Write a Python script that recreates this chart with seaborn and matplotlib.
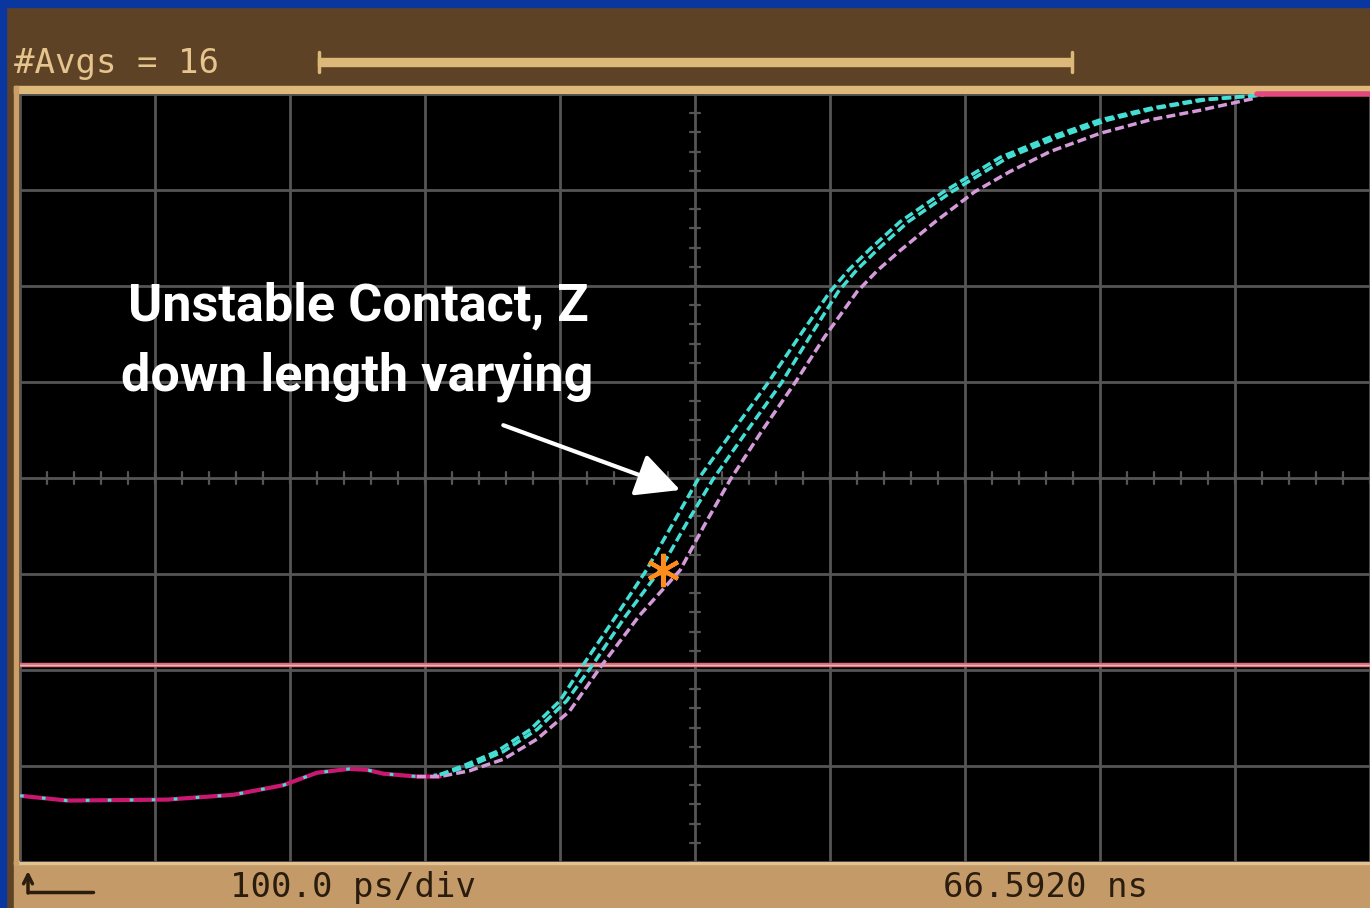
import numpy as np
import pandas as pd
import matplotlib
matplotlib.use("Agg")
import matplotlib.pyplot as plt
import seaborn as sns
from matplotlib.patches import Rectangle

# ---- screen texts -------------------------------------------------------
avg_label = "#Avgs = 16"
timebase_label = "100.0 ps/div"
position_label = "66.5920 ns"
note_lines = ["Unstable Contact, Z", "down length varying"]

# ---- waveforms (time in ps from screen left, level in vertical divisions) --
# pre-edge baseline shared by all acquisitions
base_t = [0, 35, 109, 158, 195, 220, 244, 257, 269, 294]
base_v = [0.69, 0.64, 0.65, 0.70, 0.80, 0.93, 0.97, 0.96, 0.92, 0.89]

# rising edges of the three acquisitions
edge1_t = [311, 328, 353, 378, 400, 417, 441, 464, 483, 502, 528, 554, 577,
           600, 614, 630, 652, 684, 726, 763, 800, 837, 874, 921]
edge1_v = [0.91, 1.00, 1.15, 1.38, 1.68, 2.05, 2.55, 3.04, 3.51, 3.98, 4.49,
           4.99, 5.47, 5.94, 6.17, 6.39, 6.67, 6.98, 7.34, 7.55, 7.73, 7.85,
           7.94, 7.99]
edge2_t = [311, 333, 358, 383, 405, 424, 448, 474, 493, 513, 539, 564, 585,
           606, 620, 636, 658, 690, 732, 769, 806, 841, 878, 921]
edge2_v = [0.91, 1.00, 1.15, 1.38, 1.68, 2.05, 2.55, 3.04, 3.51, 3.98, 4.50,
           4.99, 5.47, 5.94, 6.17, 6.39, 6.67, 6.98, 7.34, 7.55, 7.73, 7.85,
           7.94, 7.99]
edge3_t = [311, 333, 358, 383, 407, 431, 459, 489, 507, 526, 550, 574, 596,
           620, 635, 652, 678, 707, 733, 763, 800, 837, 874, 916]
edge3_v = [0.89, 0.95, 1.07, 1.28, 1.57, 2.05, 2.57, 3.04, 3.51, 3.98, 4.50,
           4.99, 5.47, 5.94, 6.16, 6.37, 6.67, 6.98, 7.19, 7.40, 7.59, 7.73,
           7.83, 7.96]

# trace pinned at the top of the screen after the edge
clip_t = [916, 1000]
clip_v = [8.0, 8.0]

# horizontal reference level and measurement marker
ref_t = [0, 1000]
ref_v = [2.05, 2.05]
marker_t = [476]
marker_v = [3.04]

# ---- styling -------------------------------------------------------------
sns.set_theme(style="dark")
W, H = 1370, 908
BLUE = "#0a36a0"
BROWN = "#5e4226"
TAN = "#c49a68"
TAN_LIGHT = "#dfb97a"
CYAN = "#45ded5"
LAVENDER = "#d49ada"
MAGENTA = "#c81870"
REFCOL = "#d86c78"
GRID = "#555555"

fig = plt.figure(figsize=(W / 100, H / 100), dpi=100)
fig.patch.set_facecolor(BROWN)

# frame / instrument bezel drawn in pixel units
bg = fig.add_axes([0, 0, 1, 1])
bg.set_xlim(0, W)
bg.set_ylim(H, 0)
bg.axis("off")
bg.add_patch(Rectangle((0, 0), W, H, color=BROWN, zorder=0))
bg.add_patch(Rectangle((0, 0), W, 7, color=BLUE, zorder=1))
bg.add_patch(Rectangle((0, 0), 6, H, color=BLUE, zorder=1))
bg.add_patch(Rectangle((14, 862), W - 14, H - 862, color=TAN, zorder=1))
bg.add_patch(Rectangle((14, 861), W - 14, 3, color="#e2c290", zorder=2))
bg.add_patch(Rectangle((14, 86), W - 14, 7, color=TAN_LIGHT, zorder=2))
bg.add_patch(Rectangle((14, 86), 4, 778, color="#c9a06a", zorder=2))
# record-length bar
bg.add_patch(Rectangle((318, 58), 754, 8, color="#ddb979", zorder=2))
bg.plot([319, 319], [52, 72], color="#ddb979", lw=2.5, zorder=2)
bg.plot([1072, 1072], [52, 72], color="#ddb979", lw=2.5, zorder=2)

mono = dict(family="DejaVu Sans Mono", fontsize=24.5)
bg.text(14, 73, avg_label, color="#e6c48e", va="baseline", zorder=3, **mono)
bg.text(230, 897, timebase_label, color="#2b1d0e", va="baseline", zorder=3, **mono)
bg.text(943, 897, position_label, color="#2b1d0e", va="baseline", zorder=3, **mono)
# trigger-slope icon
bg.plot([28, 93], [892, 892], color="#2b1d0e", lw=2.5, zorder=3)
bg.annotate("", xy=(28, 871), xytext=(28, 893),
            arrowprops=dict(arrowstyle="->", color="#2b1d0e", lw=2.5,
                            mutation_scale=16, shrinkA=0, shrinkB=0), zorder=3)

# graticule
ax = fig.add_axes([20 / W, 1 - 862 / H, 1350 / W, 768 / H])
ax.set_facecolor("black")
ax.set_xlim(0, 1000)
ax.set_ylim(0, 8)
ax.set_xticks(np.arange(0, 1001, 100))
ax.set_yticks(np.arange(0, 9, 1))
ax.grid(True, color=GRID, lw=2)
ax.tick_params(length=0, labelbottom=False, labelleft=False)
for s in ax.spines.values():
    s.set_visible(False)
for t in np.arange(0, 1000.1, 20):
    ax.plot([t, t], [4 - 0.06, 4 + 0.06], color=GRID, lw=1.6, zorder=1)
for v in np.arange(0, 8.01, 0.2):
    ax.plot([500 - 4.0, 500 + 4.0], [v, v], color=GRID, lw=1.6, zorder=1)

# reference level
sns.lineplot(x=ref_t, y=ref_v, ax=ax, color=REFCOL, lw=3.2, zorder=3,
             estimator=None, sort=False)
sns.lineplot(x=ref_t, y=ref_v, ax=ax, color="#f0b0b4", lw=1.0, zorder=3,
             estimator=None, sort=False)

# baseline of the stored waveform
sns.lineplot(x=base_t + edge3_t[:1], y=base_v + edge3_v[:1], ax=ax,
             color=MAGENTA, lw=3, zorder=4, estimator=None, sort=False)
sns.lineplot(x=base_t + edge1_t[:2], y=base_v + edge1_v[:2], ax=ax,
             color=CYAN, lw=2.2, linestyle=(0, (1.2, 6)), zorder=5,
             estimator=None, sort=False)

# rising edges
dash = (0, (2.6, 1.2))
sns.lineplot(x=base_t[-1:] + edge3_t, y=base_v[-1:] + edge3_v, ax=ax,
             color=LAVENDER, lw=2.5, linestyle=dash, zorder=5,
             estimator=None, sort=False)
sns.lineplot(x=edge2_t, y=edge2_v, ax=ax, color=CYAN, lw=2.5, linestyle=dash,
             zorder=6, estimator=None, sort=False)
sns.lineplot(x=edge1_t, y=edge1_v, ax=ax, color=CYAN, lw=2.5, linestyle=dash,
             zorder=6, estimator=None, sort=False)
sns.lineplot(x=clip_t, y=clip_v, ax=ax, color="#e2487e", lw=4, zorder=6,
             estimator=None, sort=False, clip_on=False)

# measurement marker
ax.plot(marker_t, marker_v, marker=(6, 2, 0), ms=24, mew=3,
        color="#ff8c1a", zorder=7, linestyle="none")

# annotation: bold label sized so the first line spans ~460 px
note_font = dict(family=["Roboto", "DejaVu Sans"], fontsize=36,
                 fontweight="bold", color="white", ha="center",
                 va="baseline")
t1 = fig.text(358 / W, 1 - 320 / H, note_lines[0], **note_font)
t2 = fig.text(357 / W, 1 - 390 / H, note_lines[1], **note_font)
renderer = fig.canvas.get_renderer()
width_px = t1.get_window_extent(renderer=renderer).width
new_size = 36 * 460.0 / width_px
t1.set_fontsize(new_size)
t2.set_fontsize(new_size)

ax.annotate("", xy=(489, 3.875), xytext=(358, 4.55),
            arrowprops=dict(arrowstyle="-|>,head_length=0.9,head_width=0.45",
                            color="white", lw=3, mutation_scale=30,
                            shrinkA=0, shrinkB=0), zorder=8)

if ax.get_legend() is not None:
    ax.get_legend().remove()

fig.savefig("out.png", dpi=100, facecolor=fig.get_facecolor())
